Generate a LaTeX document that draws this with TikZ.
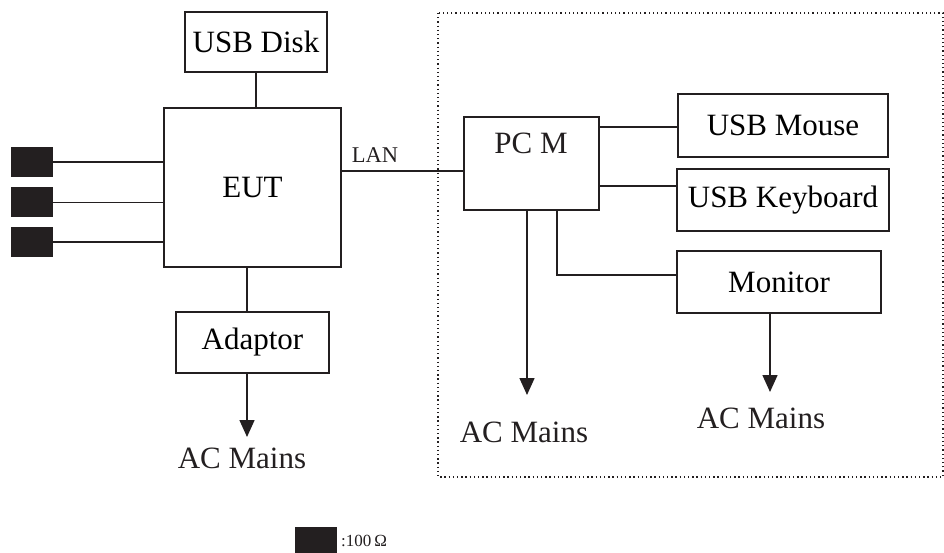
\documentclass[tikz,border=0pt]{standalone}
\usepackage{fontspec}
\setmainfont{Liberation Serif}
\usetikzlibrary{arrows.meta}
\definecolor{ink}{RGB}{35,31,32}
\tikzset{
  box/.style={draw=ink,line width=1.5pt,inner sep=0pt,font=\fontsize{31}{36}\selectfont},
  res/.style={fill=ink,draw=none,minimum width=42pt,minimum height=30pt,inner sep=0pt},
  txt/.style={text=ink,font=\fontsize{31}{36}\selectfont,inner sep=0pt},
  wire/.style={draw=ink,line width=1.5pt},
  feed/.style={wire,-{Triangle[width=15pt,length=17pt]}},
  frame/.style={draw=ink,line width=1.3pt,dash pattern=on 1.3pt off 2.9pt}
}
\begin{document}
\begin{tikzpicture}[x=1pt,y=-1pt]
\useasboundingbox (0,0) rectangle (944,553);

\draw[frame] (438,13) rectangle (943,477);

\node (disk) [box,minimum width=142pt,minimum height=60pt] at (256,42) {USB Disk};
\node (eut) [box,minimum width=177pt,minimum height=159pt] at (252.5,187.5) {EUT};
\node (adaptor) [box,minimum width=153pt,minimum height=61pt] at (252.5,342.5) {Adaptor};

\node (sq1) [res] at (32,162) {};
\node (sq2) [res] at (32,202.5) {};
\node (sq3) [res] at (32,242) {};

\node (pcm) [box,minimum width=135pt,minimum height=93pt] at (531.5,163.5) {};
\node (pcmlabel) [txt] at (531,143) {PC M};
\node (mouse) [box,minimum width=210pt,minimum height=63pt] at (783,125.5) {USB Mouse};
\node (keyb) [box,minimum width=212pt,minimum height=62pt] at (783,200) {USB Keyboard};
\node (monitor) [box,minimum width=204pt,minimum height=62pt] at (779,282) {Monitor};

\node (acl) [txt] at (242,458) {AC Mains};
\node (acp) [txt] at (524,432) {AC Mains};
\node (acm) [txt] at (761,418) {AC Mains};
\coordinate (tipl) at (247,437);
\coordinate (tipp) at (527,395);
\coordinate (tipm) at (770,392);

\node (lan) [txt,font=\fontsize{22.5}{26}\selectfont] at (375,155) {LAN};

\draw[wire] (disk.south) -- (disk.south |- eut.north);
\draw[wire] ([xshift=-5.5pt]eut.south) -- ([xshift=-5.5pt]eut.south |- adaptor.north);
\draw[feed] (adaptor.south -| tipl) -- (tipl);
\draw[wire] (sq1.east) -- (sq1.east -| eut.west);
\draw[wire] (sq2.east) -- (sq2.east -| eut.west);
\draw[wire] (sq3.east) -- (sq3.east -| eut.west);
\draw[wire] ([yshift=16.5pt]eut.east) -- ([yshift=16.5pt]eut.east -| pcm.west);

\draw[wire] ([yshift=36.5pt]pcm.east) -- ([yshift=36.5pt]pcm.east -| mouse.west);
\draw[wire] ([yshift=-22.5pt]pcm.east) -- ([yshift=-22.5pt]pcm.east -| keyb.west);
\draw[wire] ([xshift=25.5pt]pcm.south) |- ([yshift=7pt]monitor.west);
\draw[feed] (pcm.south -| tipp) -- (tipp);
\draw[feed] (monitor.south -| tipm) -- (tipm);

% legende
\node (legsq) [res,minimum height=26pt] at (316,540) {};
\node (legtxt) [txt,anchor=west,font=\fontsize{17}{20}\selectfont] at (341,541) {:100\,Ω};
\end{tikzpicture}
\end{document}
